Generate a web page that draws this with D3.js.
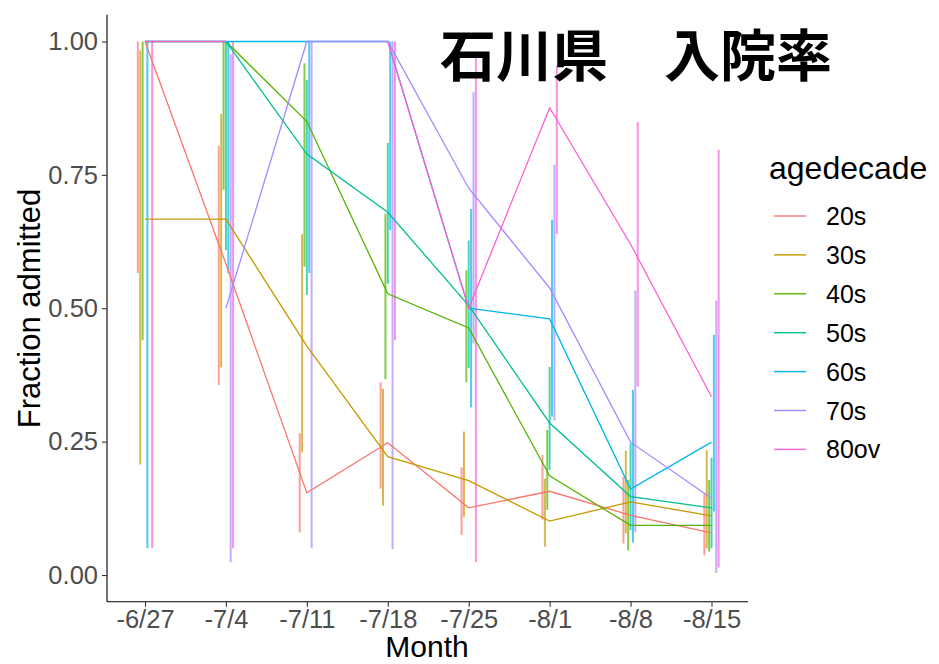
<!DOCTYPE html>
<html><head><meta charset="utf-8">
<script src="https://cdn.jsdelivr.net/npm/d3@7"></script>
<style>body{margin:0;background:#fff}svg{display:block}</style>
</head><body>
<svg id="c" width="939" height="664"></svg>
<script>
// ---- data ----
const weekLabels = ["-6/27","-7/4","-7/11","-7/18","-7/25","-8/1","-8/8","-8/15"];
const groups = ["20s","30s","40s","50s","60s","70s","80ov"];
const colors = ["#F8766D","#C49A00","#53B400","#00C094","#00B6EB","#A58AFF","#FB61D7"];
const yTicks = [0, 0.25, 0.5, 0.75, 1.0];

const v20 = [1.0, 0.583, 0.154, 0.248, 0.126, 0.157, 0.112, 0.079];
const l20 = [0.566, 0.356, 0.080, 0.162, 0.075, 0.104, 0.059, 0.037];
const h20 = [1.0, 0.804, 0.266, 0.361, 0.202, 0.225, 0.184, 0.153];

const v30 = [0.667, 0.667, 0.429, 0.222, 0.177, 0.101, 0.137, 0.111];
const l30 = [0.207, 0.389, 0.230, 0.130, 0.109, 0.053, 0.078, 0.050];
const h30 = [0.983, 0.864, 0.639, 0.349, 0.269, 0.181, 0.233, 0.234];

const v40 = [1.0, 1.0, 0.850, 0.527, 0.463, 0.186, 0.093, 0.093];
const l40 = [0.440, 0.722, 0.578, 0.367, 0.361, 0.122, 0.046, 0.044];
const h40 = [1.0, 1.0, 0.959, 0.677, 0.571, 0.272, 0.178, 0.178];

const v50 = [null, 1.0, 0.789, 0.680, 0.505, 0.285, 0.147, 0.126];
const l50 = [null, 0.609, 0.525, 0.546, 0.388, 0.197, 0.084, 0.050];
const h50 = [null, 1.0, 0.928, 0.810, 0.627, 0.390, 0.247, 0.220];

const v60 = [1.0, 1.0, 1.0, 1.0, 0.500, 0.480, 0.161, 0.249];
const l60 = [0.050, 0.566, 0.566, 0.646, 0.314, 0.297, 0.061, 0.119];
const h60 = [1.0, 1.0, 1.0, 1.0, 0.686, 0.666, 0.347, 0.450];

const v70 = [null, 0.500, 1.0, 1.0, 0.725, 0.538, 0.249, 0.144];
const l70 = [null, 0.024, 0.050, 0.049, 0.434, 0.290, 0.080, 0.004];
const h70 = [null, 0.976, 1.0, 1.0, 0.905, 0.769, 0.533, 0.514];

const v80 = [1.0, 1.0, null, 1.0, 0.500, 0.876, 0.620, 0.334];
const l80 = [0.050, 0.050, null, 0.440, 0.024, 0.639, 0.353, 0.014];
const h80 = [1.0, 1.0, null, 1.0, 0.973, 0.955, 0.849, 0.797];

const vals = [v20, v30, v40, v50, v60, v70, v80];
const los  = [l20, l30, l40, l50, l60, l70, l80];
const his  = [h20, h30, h40, h50, h60, h70, h80];

// ---- layout ----
const svg = d3.select("#c");
const font = "'Liberation Sans', Arial, sans-serif";
const x = d3.scaleLinear().domain([-0.4696, 7.451]).range([107, 748]);
const y = d3.scaleLinear().domain([-0.05, 1.05]).range([601.7, 14.8]);
const dodge = 0.206; // week units

// error bars
groups.forEach((g, gi) => {
  const off = (gi - 3) * dodge / 7;
  const data = weekLabels.map((w, i) => ({i, lo: los[gi][i], hi: his[gi][i]})).filter(d => d.lo != null);
  svg.append("g").selectAll("line").data(data).join("line")
    .attr("x1", d => x(d.i + off)).attr("x2", d => x(d.i + off))
    .attr("y1", d => y(d.lo)).attr("y2", d => y(d.hi))
    .attr("stroke", colors[gi]).attr("stroke-width", 2).attr("stroke-opacity", 0.7);
});

// lines
const line = d3.line().defined(d => d.v != null).x(d => x(d.i)).y(d => y(d.v));
groups.forEach((g, gi) => {
  const data = weekLabels.map((w, i) => ({i, v: vals[gi][i]}));
  svg.append("path").datum(data).attr("d", line)
    .attr("fill", "none").attr("stroke", colors[gi]).attr("stroke-width", 1.3);
});

// axes
const xAxis = d3.axisBottom(x).tickValues(d3.range(weekLabels.length)).tickFormat(i => weekLabels[i]).tickSize(5).tickPadding(3);
const gx = svg.append("g").attr("transform", "translate(0,601.7)").call(xAxis);
const yAxis = d3.axisLeft(y).tickValues(yTicks).tickFormat(d3.format(".2f")).tickSize(5).tickPadding(4);
const gy = svg.append("g").attr("transform", "translate(107,0)").call(yAxis);
[gx, gy].forEach(g => {
  g.select(".domain").attr("stroke", "#000").attr("stroke-width", 1.1);
  g.selectAll(".tick line").attr("stroke", "#333").attr("stroke-width", 1.1);
  g.selectAll(".tick text").attr("fill", "#4d4d4d").style("font-family", font).style("font-size", "25.5px");
});
gx.select(".domain").attr("d", "M107,0H748");
gy.select(".domain").attr("d", "M0,14.8V601.7");

// axis titles
svg.append("text").attr("x", 427).attr("y", 657).attr("text-anchor", "middle")
  .style("font-family", font).style("font-size", "30px").attr("fill", "#000").text("Month");
svg.append("text").attr("transform", "translate(40,308.5) rotate(-90)").attr("text-anchor", "middle")
  .style("font-family", font).style("font-size", "31px").attr("fill", "#000").text("Fraction admitted");

// legend
svg.append("text").attr("x", 769).attr("y", 179).style("font-family", font).style("font-size", "32px").attr("fill", "#000").text("agedecade");
groups.forEach((g, gi) => {
  const ly = 216 + gi * 38.9;
  svg.append("line").attr("x1", 774).attr("x2", 806).attr("y1", ly).attr("y2", ly)
    .attr("stroke", colors[gi]).attr("stroke-width", 1.4);
  svg.append("text").attr("x", 826).attr("y", ly + 9).style("font-family", font).style("font-size", "25px").attr("fill", "#000").text(g);
});

// title
svg.append("text").attr("x", 440).attr("y", 76)
  .style("font-family", "'Noto Sans CJK JP', sans-serif").style("font-weight", "bold").style("font-size", "56px")
  .attr("fill", "#000").text("石川県　入院率");
</script>
</body></html>
